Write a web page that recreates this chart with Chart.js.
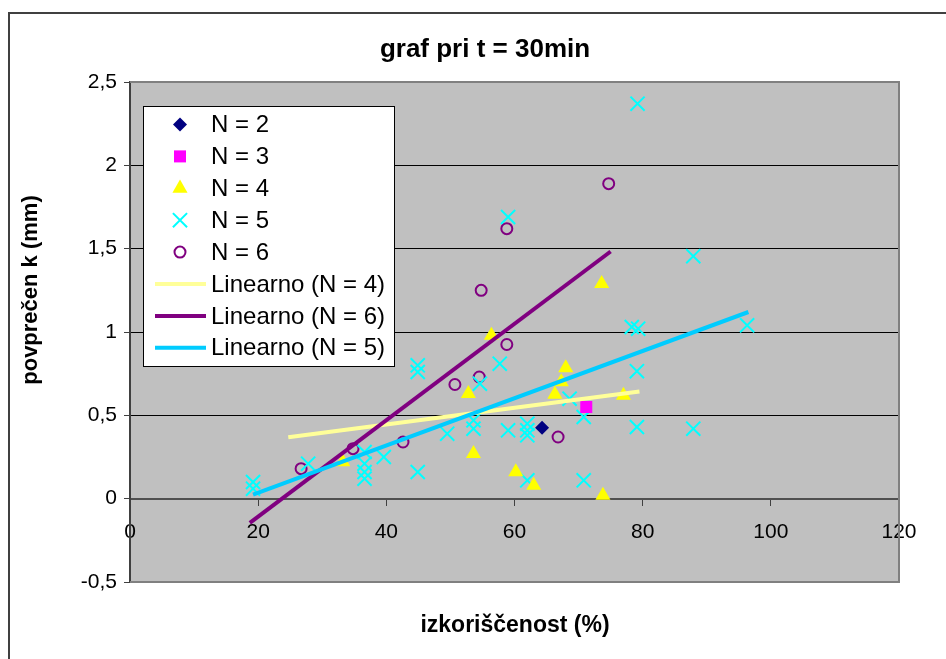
<!DOCTYPE html>
<html>
<head>
<meta charset="utf-8">
<script src="https://cdn.jsdelivr.net/npm/chart.js@4/dist/chart.umd.min.js"></script>
<style>
  html, body { margin: 0; padding: 0; background: #fff; overflow: hidden; }
  #wrap { position: relative; width: 946px; height: 659px; }
</style>
</head>
<body>
<div id="wrap"><canvas id="myChart" width="946" height="659"></canvas></div>
<script>
// podatki (odčitani z grafa)
const n2X = [64.3];
const n2Y = [0.425];
const n3X = [71.2];
const n3Y = [0.55];
const n4X = [33.5, 33.2, 52.8, 53.6, 56.4, 60.2, 63.0, 66.3, 67.3, 68.0, 73.6, 73.8, 77.0];
const n4Y = [0.82, 0.22, 0.63, 0.27, 0.98, 0.16, 0.08, 0.625, 0.70, 0.785, 1.29, 0.02, 0.62];
const n5X = [19.2, 19.2, 27.8, 36.6, 36.6, 36.6, 36.6, 39.6, 44.9, 44.9, 44.9, 49.5, 53.6, 53.6, 54.6, 57.7,
             59.0, 59.0, 62.0, 62.0, 62.0, 62.0, 68.6, 70.8, 70.8, 78.3, 79.3, 79.1, 79.1, 79.2, 87.9, 87.9, 96.3];
const n5Y = [0.10, 0.06, 0.21, 0.28, 0.21, 0.16, 0.12, 0.25, 0.80, 0.76, 0.16, 0.39, 0.47, 0.42, 0.69, 0.81,
             1.69, 0.41, 0.45, 0.41, 0.38, 0.11, 0.60, 0.49, 0.11, 1.03, 1.02, 0.765, 0.43, 2.37, 1.455, 0.42, 1.04];
const n6X = [26.7, 34.8, 42.6, 50.7, 54.5, 54.8, 58.8, 58.8, 66.8, 74.7];
const n6Y = [0.18, 0.30, 0.34, 0.685, 0.73, 1.25, 0.925, 1.62, 0.37, 1.89];

// trendne črte - krajišči
const lin4X = [24.7, 79.5];
const lin4Y = [0.368, 0.643];
const lin6X = [18.7, 75.0];
const lin6Y = [-0.145, 1.483];
const lin5X = [19.2, 96.5];
const lin5Y = [0.024, 1.12];

const legendLabels = ['N = 2', 'N = 3', 'N = 4', 'N = 5', 'N = 6', 'Linearno (N = 4)', 'Linearno (N = 6)', 'Linearno (N = 5)'];
const chartTitle = 'graf pri t = 30min';
const xTitle = 'izkoriščenost (%)';
const yTitle = 'povprečen k (mm)';

const FONT = 'Arial, "Liberation Sans", sans-serif';
const pts = (xs, ys) => xs.map((x, i) => ({ x: x, y: ys[i] }));

const styles = [
  { pointStyle: 'rectRot', radius: 7, bg: '#000080', border: '#000080', bw: 0 },
  { pointStyle: 'rect', radius: 8.5, bg: '#FF00FF', border: '#FF00FF', bw: 0 },
  { pointStyle: 'triangle', radius: 8.7, bg: '#FFFF00', border: '#FFFF00', bw: 0 },
  { pointStyle: 'crossRot', radius: 10, bg: '#00FFFF', border: '#00FFFF', bw: 2 },
  { pointStyle: 'circle', radius: 5.5, bg: 'rgba(0,0,0,0)', border: '#800080', bw: 2 }
];
const lineColors = ['#FFFF99', '#800080', '#00CCFF'];

function scatterSet(label, data, s) {
  return {
    type: 'scatter', label: label, data: data,
    pointStyle: s.pointStyle, pointRadius: s.radius,
    backgroundColor: s.bg, borderColor: s.border, pointBorderWidth: s.bw, borderWidth: s.bw,
    showLine: false
  };
}
function lineSet(label, data, color) {
  return {
    type: 'scatter', label: label, data: data, showLine: true,
    borderColor: color, borderWidth: 4, pointRadius: 0, fill: false
  };
}

// plugin: ozadje, okvir, naslovi, legenda
const decor = {
  id: 'decor',
  beforeDraw(chart) {
    const ctx = chart.ctx, a = chart.chartArea;
    ctx.save();
    ctx.fillStyle = '#fff';
    ctx.fillRect(0, 0, chart.width, chart.height);
    ctx.strokeStyle = '#404040';
    ctx.lineWidth = 2;
    ctx.strokeRect(9, 13, 1200, 1200);
    ctx.fillStyle = '#C0C0C0';
    ctx.fillRect(a.left, a.top, a.right - a.left, a.bottom - a.top);
    ctx.restore();
  },
  afterDatasetsDraw(chart) {
    const ctx = chart.ctx, a = chart.chartArea;
    ctx.save();
    ctx.strokeStyle = '#808080';
    ctx.lineWidth = 2;
    ctx.beginPath();
    ctx.moveTo(a.left, a.top); ctx.lineTo(a.right, a.top); ctx.lineTo(a.right, a.bottom); ctx.lineTo(a.left, a.bottom);
    ctx.stroke();
    ctx.restore();
  },
  afterDraw(chart) {
    const ctx = chart.ctx;
    ctx.save();
    ctx.fillStyle = '#000';
    ctx.textAlign = 'center';
    ctx.textBaseline = 'middle';
    ctx.font = 'bold 26px ' + FONT;
    ctx.fillText(chartTitle, 485, 50);
    ctx.font = 'bold 23px ' + FONT;
    ctx.fillText(xTitle, 515, 626);
    ctx.font = 'bold 22px ' + FONT;
    ctx.translate(31, 290);
    ctx.rotate(-Math.PI / 2);
    ctx.fillText(yTitle, 0, 0);
    ctx.restore();

    // legenda
    ctx.save();
    const lx = 143, ly = 106, lw = 251, lh = 260;
    ctx.fillStyle = '#fff';
    ctx.fillRect(lx, ly, lw, lh);
    ctx.strokeStyle = '#000';
    ctx.lineWidth = 1;
    ctx.strokeRect(lx + 0.5, ly + 0.5, lw, lh);
    ctx.font = '24px ' + FONT;
    ctx.textAlign = 'left';
    ctx.textBaseline = 'middle';
    legendLabels.forEach((txt, i) => {
      const y = 124.5 + i * 31.9;
      if (i < 5) {
        const s = styles[i];
        ctx.fillStyle = s.bg;
        ctx.strokeStyle = s.border;
        ctx.lineWidth = s.bw;
        Chart.helpers.drawPoint(ctx, { pointStyle: s.pointStyle, radius: s.radius, borderWidth: s.bw, rotation: 0 }, 180, y);
      } else {
        ctx.strokeStyle = lineColors[i - 5];
        ctx.lineWidth = 4;
        ctx.beginPath();
        ctx.moveTo(155, y); ctx.lineTo(206, y);
        ctx.stroke();
      }
      ctx.fillStyle = '#000';
      ctx.fillText(txt, 211, y + 1);
    });
    ctx.restore();
  }
};

const ctx = document.getElementById('myChart').getContext('2d');
new Chart(ctx, {
  type: 'scatter',
  data: {
    datasets: [
      lineSet(legendLabels[7], pts(lin5X, lin5Y), lineColors[2]),
      lineSet(legendLabels[6], pts(lin6X, lin6Y), lineColors[1]),
      lineSet(legendLabels[5], pts(lin4X, lin4Y), lineColors[0]),
      scatterSet(legendLabels[0], pts(n2X, n2Y), styles[0]),
      scatterSet(legendLabels[1], pts(n3X, n3Y), styles[1]),
      scatterSet(legendLabels[2], pts(n4X, n4Y), styles[2]),
      scatterSet(legendLabels[3], pts(n5X, n5Y), styles[3]),
      scatterSet(legendLabels[4], pts(n6X, n6Y), styles[4])
    ]
  },
  options: {
    responsive: false,
    animation: false,
    events: [],
    layout: { padding: { left: 0, top: 82, right: 47, bottom: 77 } },
    plugins: { legend: { display: false }, tooltip: { enabled: false }, title: { display: false } },
    scales: {
      x: {
        type: 'linear', min: 0, max: 120,
        position: { y: 0 },
        ticks: { stepSize: 20, color: '#000', font: { family: FONT, size: 21 }, padding: 15, maxRotation: 0 },
        grid: { drawOnChartArea: false, tickLength: 6, tickColor: '#404040', tickWidth: 1 },
        border: { color: '#505050', width: 2 }
      },
      y: {
        type: 'linear', min: -0.5, max: 2.5,
        afterFit: s => { s.width = 130; },
        ticks: {
          stepSize: 0.5, color: '#000', font: { family: FONT, size: 21 }, padding: 7,
          callback: v => String(v).replace('.', ',')
        },
        grid: {
          color: c => (c.tick.value === 0 ? 'rgba(0,0,0,0)' : (c.tick.value === 2.5 || c.tick.value === -0.5 ? '#808080' : '#000')),
          lineWidth: 1, tickLength: 6, tickColor: '#404040'
        },
        border: { color: '#404040', width: 2 }
      }
    }
  },
  plugins: [decor]
});
</script>
</body>
</html>
